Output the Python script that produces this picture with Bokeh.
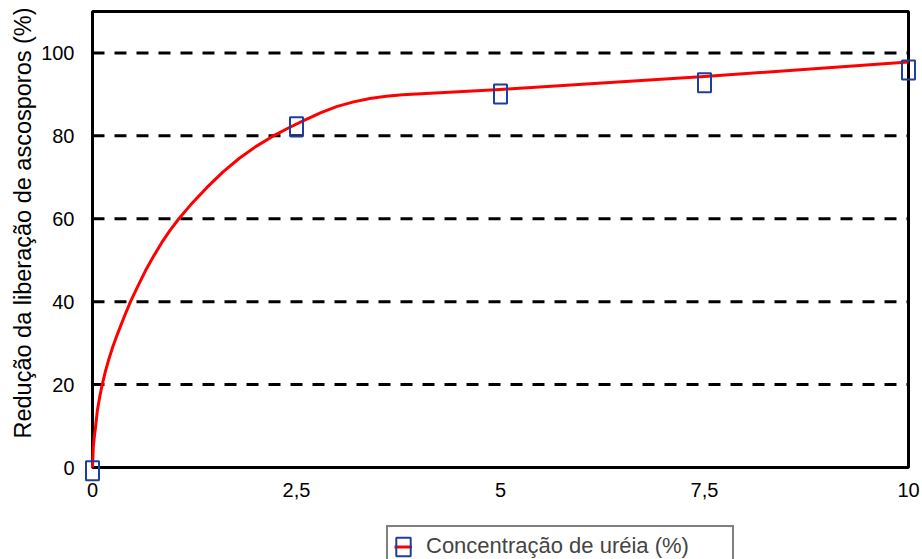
from bokeh.plotting import figure
from bokeh.layouts import column
from bokeh.models import Range1d, FixedTicker, Legend, LegendItem, Title
from bokeh.embed import file_html
from bokeh.resources import INLINE

# ---- data ----
point_x = [0, 2.5, 5, 7.5, 10]
point_y = [-0.8, 82.2, 90.1, 92.8, 95.9]

curve_x = [0, 0.01, 0.02, 0.037, 0.06, 0.09, 0.119, 0.16, 0.2, 0.25, 0.3, 0.35, 0.4,
           0.466, 0.55, 0.65, 0.75, 0.85, 0.95, 1.058, 1.2, 1.4, 1.6, 1.8, 2.0, 2.2,
           2.4, 2.6, 2.8, 3.0, 3.2, 3.4, 3.6, 3.8, 5, 7.5, 10]
curve_y = [0, 5, 7, 9.7, 13.8, 17.2, 20, 23.3, 26.1, 29.2, 31.9, 34.4, 36.9,
           40, 43.5, 47.5, 51.0, 54.3, 57.2, 60, 63.3, 67.5, 71.3, 74.6, 77.4, 79.8,
           81.9, 83.8, 85.6, 87.1, 88.2, 89.0, 89.55, 89.9, 91.2, 94.3, 97.8]

x_ticks = [0, 2.5, 5, 7.5, 10]
x_tick_labels = ["0", "2,5", "5", "7,5", "10"]
y_ticks = [0, 20, 40, 60, 80, 100]
grid_y = [20, 40, 60, 80, 100]

X_MIN, X_MAX = 0, 10
Y_MIN, Y_MAX = 0, 110

series_label = "Concentração de uréia (%)"
y_label = "Redução da liberação de ascosporos (%)"

FONT = "Liberation Sans"
RED = "#ff0000"
BLUE = "#1c3fa0"
NAN = float("nan")

p = figure(width=922, height=505, output_backend="svg", toolbar_location=None,
           x_range=Range1d(-0.098, 10.147), y_range=Range1d(-3.614, 111.687),
           min_border_left=84, min_border_right=2, min_border_top=4, min_border_bottom=23)
p.outline_line_color = None
p.xgrid.visible = False
p.ygrid.visible = False

# grid lines
p.segment(x0=[X_MIN]*len(grid_y), x1=[X_MAX]*len(grid_y), y0=grid_y, y1=grid_y,
          line_color="black", line_width=3, line_dash="12 10")
# plot box
p.quad(left=[X_MIN], right=[X_MAX], bottom=[Y_MIN], top=[Y_MAX],
       fill_color=None, line_color="black", line_width=3)

p.line(curve_x, curve_y, line_color=RED, line_width=3, line_join="round")
p.rect(point_x, point_y, width=13, height=19, width_units="screen",
       height_units="screen", fill_color=None, line_color=BLUE, line_width=2)

for ax in (p.xaxis[0], p.yaxis[0]):
    ax.axis_line_color = None
    ax.major_tick_line_color = None
    ax.minor_tick_line_color = None
    ax.major_label_text_font = FONT
    ax.major_label_text_font_size = "20px"
    ax.major_label_text_color = "black"

p.xaxis.ticker = FixedTicker(ticks=x_ticks)
p.xaxis.major_label_overrides = {t: l for t, l in zip(x_ticks, x_tick_labels)}
p.xaxis.major_label_standoff = -6
p.yaxis.ticker = FixedTicker(ticks=y_ticks)
p.yaxis.major_label_standoff = 4

ytitle = Title(text=y_label, align="left", offset=44, vertical_align="middle",
               standoff=4, text_font=FONT, text_font_size="23.5px",
               text_font_style="normal", text_color="black")
p.add_layout(ytitle, "left")

# legend strip
q = figure(width=922, height=54, output_backend="svg", toolbar_location=None,
           x_axis_location=None, y_axis_location=None,
           x_range=Range1d(0, 1), y_range=Range1d(0, 1),
           min_border_left=0, min_border_right=0, min_border_top=0, min_border_bottom=0)
q.outline_line_color = None
q.xgrid.visible = False
q.ygrid.visible = False
leg_line = q.line(x=[NAN], y=[NAN], line_color=RED, line_width=3)
leg_rect = q.rect(x=[NAN], y=[NAN], width=13, height=19, width_units="screen",
                  height_units="screen", fill_color=None, line_color=BLUE, line_width=2)

legend = Legend(items=[LegendItem(label=series_label, renderers=[leg_line, leg_rect])],
                location=(302, -8), orientation="vertical",
                label_text_font=FONT, label_text_font_size="22px",
                glyph_width=18, glyph_height=23, label_height=23, label_width=300,
                label_standoff=14, padding=6, margin=0, spacing=0,
                border_line_color="black", border_line_width=2,
                background_fill_color="white", background_fill_alpha=1)
q.add_layout(legend, "center")

layout = column(p, q, spacing=0)
open("out.html", "w").write(file_html(layout, INLINE))
